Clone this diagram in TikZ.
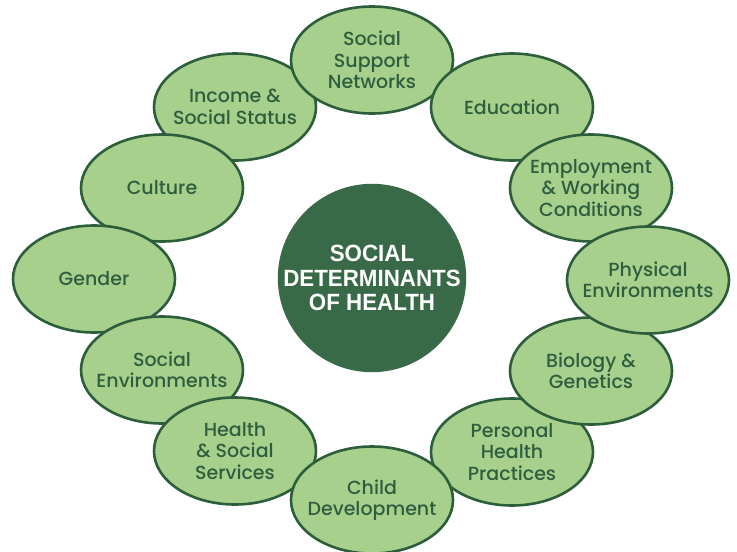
\documentclass[tikz,border=0pt]{standalone}
\usepackage{fontspec}
\setmainfont{Poppins Medium}
\newfontfamily\hubfont[FakeStretch=0.95]{Liberation Sans Bold}
\usepackage{xcolor}
\definecolor{colRing}{HTML}{A8D08D}
\definecolor{colRingLine}{HTML}{2C5E3C}
\definecolor{colRingText}{HTML}{2F5E3F}
\definecolor{colHub}{HTML}{386A48}
\usepackage{tikz}
\usetikzlibrary{shapes.geometric}
\tikzset{
	factor/.style={draw=colRingLine, line width=2.6pt, fill=colRing, ellipse, minimum width=162pt, minimum height=107pt, inner sep=0pt},
	factortext/.style={inner sep=0pt, align=center, text=colRingText, font=\fontsize{19}{21.5}\selectfont},
	hub/.style={circle, fill=colHub, minimum size=181pt, inner sep=0pt, align=center, text=white, font=\hubfont\fontsize{23.5}{24.3}\selectfont},
}
% one ellipse of the ring with its caption on top
\newcommand{\ringitem}[3]{%
	\node[factor] (#1) at (#2) {};
	\node[factortext] (#1-txt) at (#1) {#3};
}

\begin{document}
\begin{tikzpicture}[x=1pt, y=-1pt]
	\useasboundingbox (0,0) rectangle (737,552);

	% Centre circle
	\node[hub] (sdoh) at (372,278) {SOCIAL\\DETERMINANTS\\OF HEALTH};

	% Ring of determinants (drawing order sets the overlaps)
	\ringitem{income}{235,107}{Income \&\\Social Status}
	\ringitem{culture}{162,188}{Culture}
	\ringitem{gender}{94,279}{Gender}
	\ringitem{socenv}{162,370}{Social\\Environments}
	\ringitem{services}{235,451}{Health\\\& Social\\Services}
	\ringitem{practices}{512,452}{Personal\\Health\\Practices}
	\ringitem{child}{372,500}{Child\\Development}
	\ringitem{biology}{591,371}{Biology \&\\Genetics}
	\ringitem{support}{372,60}{Social\\Support\\Networks}
	\ringitem{education}{512,107}{Education}
	\ringitem{employ}{591,188}{Employment\\\& Working\\Conditions}
	\ringitem{physical}{648,280}{Physical\\Environments}
\end{tikzpicture}
\end{document}
